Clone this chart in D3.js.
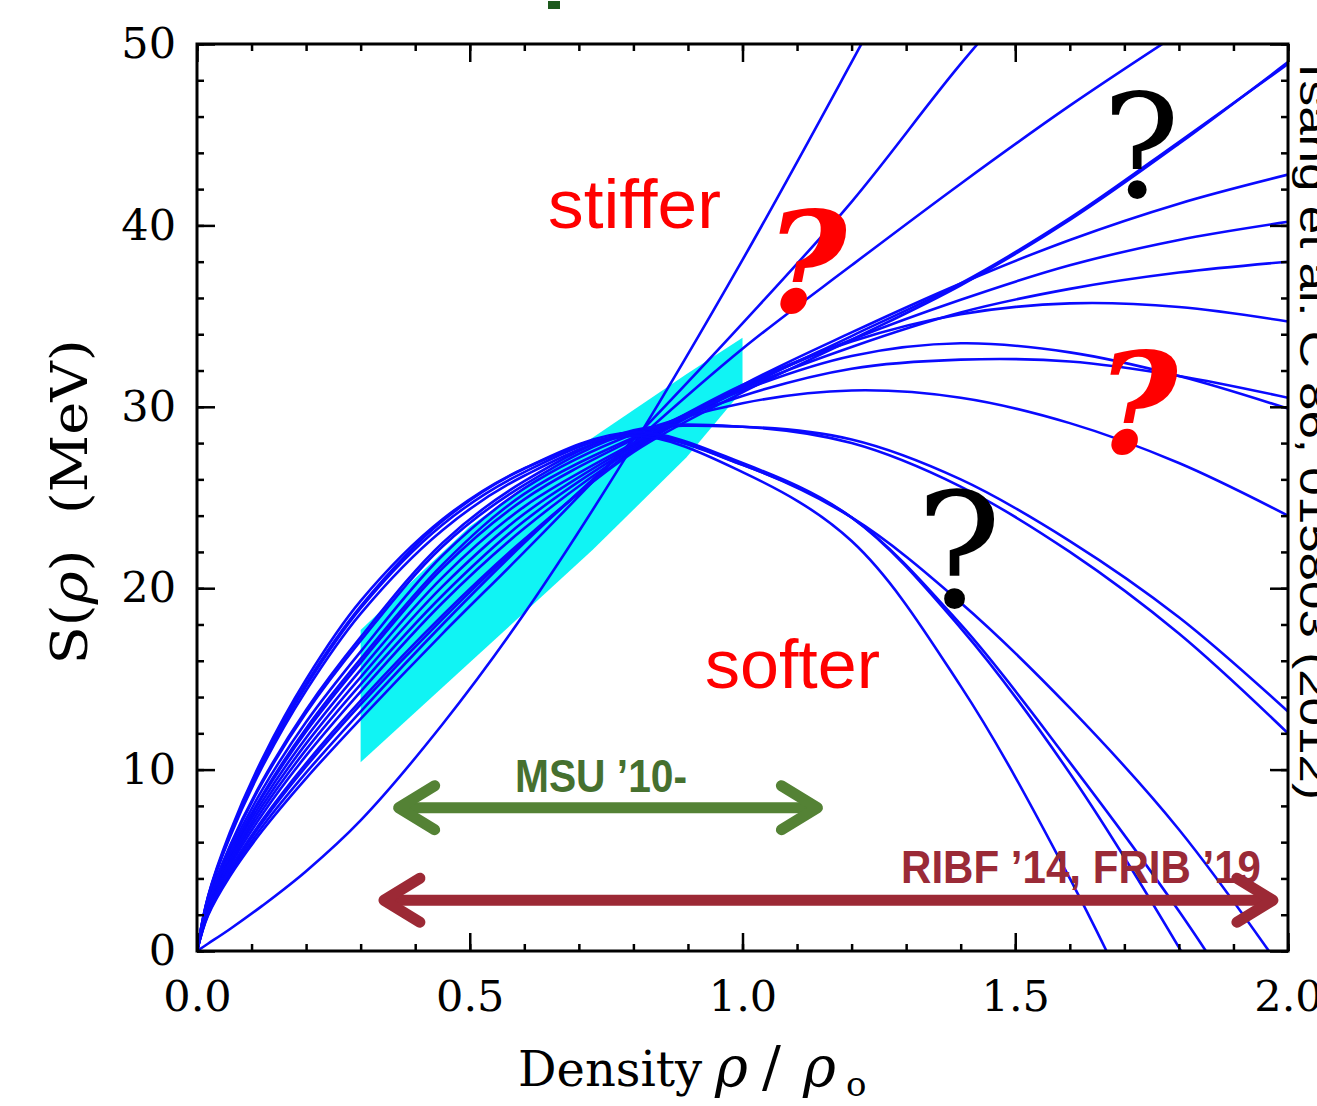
<!DOCTYPE html>
<html>
<head>
<meta charset="utf-8">
<script src="https://cdn.jsdelivr.net/npm/d3@7"></script>
<style>
  body { margin: 0; background: #fff; }
  svg { display: block; }
</style>
</head>
<body>
<div id="chart"></div>
<script>
// density grid rho/rho0 shared by all curves
const rho = [0, 0.02, 0.06, 0.12, 0.2, 0.3, 0.45, 0.6, 0.8, 1.0, 1.2, 1.4, 1.6, 1.8, 2.0];

// S(rho) in MeV (null = already above the frame)
const curve01 = [0, 0.4, 1.2, 2.5, 4.4, 7.2, 12.5, 18.6, 27.9, 38.1, 49.0, 60.2, null, null, null];
const curve02 = [0, 1.95, 4.11, 6.64, 9.52, 12.8, 17.5, 22.0, 28.2, 34.6, 41.3, 48.9, 55.8, null, null];
const curve03 = [0, 2.0, 4.25, 6.86, 9.83, 13.2, 18.0, 22.5, 28.0, 33.2, 37.8, 42.3, 46.6, 50.6, 54.5];
const curve04 = [0, 2.07, 4.39, 7.10, 10.17, 13.6, 18.3, 22.6, 27.6, 31.0, 33.9, 36.8, 40.4, 44.6, 48.9];
const curve05 = [0, 2.10, 4.47, 7.23, 10.35, 13.8, 18.5, 22.7, 27.5, 30.8, 33.7, 36.7, 40.3, 44.5, 49.0];
const curve06 = [0, 2.19, 4.66, 7.54, 10.77, 14.3, 19.2, 23.3, 27.7, 31.2, 34.1, 36.8, 39.2, 41.2, 42.8];
const curve07 = [0, 2.25, 4.81, 7.78, 11.10, 14.7, 19.6, 23.7, 27.8, 31.1, 33.7, 35.9, 37.8, 39.2, 40.2];
const curve08 = [0, 2.31, 4.95, 8.02, 11.43, 15.1, 20.1, 24.1, 27.9, 31.0, 33.3, 35.2, 36.5, 37.4, 38.0];
const curve09 = [0, 2.37, 5.10, 8.26, 11.76, 15.5, 20.6, 24.5, 28.0, 31.2, 33.6, 35.1, 35.7, 35.5, 34.7];
const curve10 = [0, 2.45, 5.25, 8.51, 12.10, 15.9, 21.1, 24.9, 28.2, 30.9, 32.8, 33.5, 33.0, 31.7, 29.9];
const curve11 = [0, 2.48, 5.31, 8.61, 12.27, 16.1, 21.3, 25.2, 28.3, 30.6, 32.1, 32.6, 32.5, 31.7, 30.5];
const curve12 = [0, 2.54, 5.48, 8.91, 12.62, 16.5, 21.8, 25.5, 28.5, 30.2, 30.9, 30.5, 29.1, 26.9, 24.0];
const curve13 = [0, 2.63, 5.71, 9.29, 13.13, 17.1, 22.3, 25.7, 28.6, 28.9, 28.2, 26.0, 22.6, 18.4, 13.2];
const curve14 = [0, 2.66, 5.78, 9.39, 13.29, 17.3, 22.5, 25.9, 28.7, 28.9, 28.0, 25.6, 22.0, 17.5, 12.0];
const curve15 = [0, 2.88, 6.25, 10.17, 14.36, 18.6, 23.2, 26.2, 28.4, 26.8, 23.9, 19.2, 13.4, 6.7, -1.5];
const curve16 = [0, 2.93, 6.35, 10.34, 14.6, 18.9, 23.5, 26.4, 28.5, 26.8, 23.9, 18.0, 10.4, 2.2, -7.0];
const curve17 = [0, 2.95, 6.40, 10.43, 14.73, 19.0, 23.7, 26.6, 28.6, 26.9, 23.9, 17.8, 9.8, 0.2, -10.5];
const curve18 = [0, 2.99, 6.52, 10.61, 14.97, 19.3, 23.8, 26.6, 28.4, 26.4, 22.6, 14.6, 4.0, -8.4, -22.0];
const curves = [curve01, curve02, curve03, curve04, curve05, curve06, curve07, curve08, curve09,
  curve10, curve11, curve12, curve13, curve14, curve15, curve16, curve17, curve18];

// cyan constraint band
const bandRho = [0.3, 0.5, 0.725, 0.897, 1.0];
const bandLow = [10.4, 15.9, 22.1, 27.2, 30.9];
const bandHigh = [17.7, 23.4, 28.3, 31.8, 33.8];

// ticks
const xMajor = [0, 0.5, 1, 1.5, 2];
const xTickLabels = ["0.0", "0.5", "1.0", "1.5", "2.0"];
const xMinor = [0, 0.1, 0.2, 0.3, 0.4, 0.5, 0.6, 0.7, 0.8, 0.9, 1, 1.1, 1.2, 1.3, 1.4, 1.5, 1.6, 1.7, 1.8, 1.9, 2];
const yMajor = [0, 10, 20, 30, 40, 50];
const yMinor = [0, 2, 4, 6, 8, 10, 12, 14, 16, 18, 20, 22, 24, 26, 28, 30, 32, 34, 36, 38, 40, 42, 44, 46, 48, 50];

// experiment ranges (rho from, rho to, S level)
const arrowNames = ["MSU \u201910-", "RIBF \u201914, FRIB \u201919"];
const arrowFrom = [0.366, 0.339];
const arrowTo = [1.141, 1.976];
const arrowLevel = [7.9, 2.8];

function init() {
    let width = 1317;
    let height = 1106;
    let svg = d3.select("#chart")
        .append("svg")
        .attr("width", width)
        .attr("height", height);

    let x = d3.scaleLinear().domain([0, 2]).range([197, 1288]);
    let y = d3.scaleLinear().domain([0, 50]).range([951, 44]);

    svg.append("clipPath").attr("id", "plotArea")
        .append("rect")
        .attr("x", x(0)).attr("y", y(50))
        .attr("width", x(2) - x(0)).attr("height", y(0) - y(50));

    let plot = svg.append("g").attr("clip-path", "url(#plotArea)");

    // band
    let band = bandRho.map((r, i) => ({r: r, lo: bandLow[i], hi: bandHigh[i]}));
    plot.append("path")
        .datum(band)
        .attr("fill", "#10f4f4")
        .attr("d", d3.area().x(d => x(d.r)).y0(d => y(d.lo)).y1(d => y(d.hi)));

    // curves
    let line = d3.line()
        .defined(d => d[1] !== null)
        .x(d => x(d[0]))
        .y(d => y(d[1]))
        .curve(d3.curveCatmullRom.alpha(0.5));
    curves.forEach(function (c) {
        plot.append("path")
            .datum(rho.map((r, i) => [r, c[i]]))
            .attr("fill", "none")
            .attr("stroke", "#0a0aff")
            .attr("stroke-width", 2.6)
            .attr("d", line);
    });

    // axes, ticks pointing inward
    function styleAxis(g) {
        g.select(".domain").remove();
        g.selectAll("line").attr("stroke", "#000").attr("stroke-width", 2.5);
        g.selectAll("text")
            .attr("font-family", "DejaVu Serif")
            .attr("font-size", 43)
            .attr("fill", "#000");
    }
    svg.append("g").attr("transform", "translate(0," + y(0) + ")")
        .call(d3.axisBottom(x).tickValues(xMinor).tickSize(-7).tickFormat(""))
        .call(styleAxis);
    svg.append("g").attr("transform", "translate(0," + y(0) + ")")
        .call(d3.axisBottom(x).tickValues(xMajor).tickSize(-18).tickPadding(29)
            .tickFormat((d, i) => xTickLabels[i]))
        .call(styleAxis);
    svg.append("g").attr("transform", "translate(0," + y(50) + ")")
        .call(d3.axisTop(x).tickValues(xMinor).tickSize(-7).tickFormat(""))
        .call(styleAxis);
    svg.append("g").attr("transform", "translate(0," + y(50) + ")")
        .call(d3.axisTop(x).tickValues(xMajor).tickSize(-18).tickFormat(""))
        .call(styleAxis);
    svg.append("g").attr("transform", "translate(" + x(0) + ",0)")
        .call(d3.axisLeft(y).tickValues(yMinor).tickSize(-7).tickFormat(""))
        .call(styleAxis);
    svg.append("g").attr("transform", "translate(" + x(0) + ",0)")
        .call(d3.axisLeft(y).tickValues(yMajor).tickSize(-18).tickPadding(21))
        .call(styleAxis);
    svg.append("g").attr("transform", "translate(" + x(2) + ",0)")
        .call(d3.axisRight(y).tickValues(yMinor).tickSize(-7).tickFormat(""))
        .call(styleAxis);
    svg.append("g").attr("transform", "translate(" + x(2) + ",0)")
        .call(d3.axisRight(y).tickValues(yMajor).tickSize(-18).tickFormat(""))
        .call(styleAxis);

    svg.append("rect")
        .attr("x", x(0)).attr("y", y(50))
        .attr("width", x(2) - x(0)).attr("height", y(0) - y(50))
        .attr("fill", "none").attr("stroke", "#000").attr("stroke-width", 3);

    // axis titles
    let xt = svg.append("text")
        .attr("font-family", "DejaVu Serif").attr("font-size", 48).attr("fill", "#000")
        .attr("y", 1086);
    xt.append("tspan").attr("x", 518).text("Density");
    xt.append("tspan").attr("x", 715).attr("font-style", "italic").attr("font-size", 56).text("\u03c1");
    xt.append("tspan").attr("x", 762).attr("font-size", 56).text("/");
    xt.append("tspan").attr("x", 803).attr("font-style", "italic").attr("font-size", 56).text("\u03c1");
    xt.append("tspan").attr("x", 846).attr("dy", 10).attr("font-size", 34).text("o");

    let yt = svg.append("text")
        .attr("transform", "translate(87,502) rotate(-90)")
        .attr("text-anchor", "middle")
        .attr("font-family", "DejaVu Serif").attr("font-size", 50).attr("fill", "#000")
        .attr("textLength", 325).attr("lengthAdjust", "spacingAndGlyphs");
    yt.append("tspan").text("S(");
    yt.append("tspan").attr("font-style", "italic").text("\u03c1");
    yt.append("tspan").text(")\u00a0\u00a0(MeV)");

    // reference on the right edge (cut off by the page edge, as in the original)
    svg.append("text")
        .attr("transform", "translate(1300,55) rotate(90)")
        .attr("font-family", "Liberation Sans, Arial, sans-serif")
        .attr("font-size", 40).attr("fill", "#000")
        .attr("textLength", 745).attr("lengthAdjust", "spacingAndGlyphs")
        .text("Tsang et al. C 86, 015803 (2012)");

    // fragment of a cut-off title
    svg.append("rect").attr("x", 548).attr("y", 1).attr("width", 12).attr("height", 8).attr("fill", "#1d5a1d");

    // stiffer / softer
    svg.append("text").attr("x", 548).attr("y", 228)
        .attr("font-family", "Liberation Sans, Arial, sans-serif").attr("font-size", 68)
        .attr("fill", "#ff0000").attr("textLength", 173).attr("lengthAdjust", "spacingAndGlyphs")
        .text("stiffer");
    svg.append("text").attr("x", 705).attr("y", 688)
        .attr("font-family", "Liberation Sans, Arial, sans-serif").attr("font-size", 68)
        .attr("fill", "#ff0000").attr("textLength", 175).attr("lengthAdjust", "spacingAndGlyphs")
        .text("softer");

    // question marks
    let qs = [
        {x: 1141, y: 197, size: 145, color: "#000", bold: false, italic: false},
        {x: 959, y: 607, size: 160, color: "#000", bold: false, italic: false},
        {x: 806, y: 312, size: 140, color: "#ff0000", bold: true, italic: true},
        {x: 1137, y: 453, size: 140, color: "#ff0000", bold: true, italic: true}
    ];
    qs.forEach(function (q) {
        svg.append("text").attr("x", q.x).attr("y", q.y)
            .attr("text-anchor", "middle")
            .attr("font-family", "DejaVu Serif")
            .attr("font-weight", q.bold ? "bold" : "normal")
            .attr("font-style", q.italic ? "italic" : "normal")
            .attr("font-size", q.size).attr("fill", q.color)
            .text("?");
    });

    // double arrows
    let arrowColors = ["#548235", "#9c2935"];
    let textColors = ["#46702f", "#9a2a37"];
    let textX = [515, 901];
    let textLen = [172, 360];
    let textDy = [-16, -17];
    arrowNames.forEach(function (name, i) {
        let g = svg.append("g")
            .attr("stroke", arrowColors[i]).attr("stroke-width", 11)
            .attr("stroke-linecap", "round").attr("stroke-linejoin", "round")
            .attr("fill", "none");
        let x0 = x(arrowFrom[i]), x1 = x(arrowTo[i]), yy = y(arrowLevel[i]);
        g.append("line").attr("x1", x0 + 4).attr("x2", x1 - 4).attr("y1", yy).attr("y2", yy);
        g.append("path").attr("d", "M" + (x0 + 38) + "," + (yy - 22) + "L" + (x0 + 2) + "," + yy + "L" + (x0 + 38) + "," + (yy + 22));
        g.append("path").attr("d", "M" + (x1 - 38) + "," + (yy - 22) + "L" + (x1 - 2) + "," + yy + "L" + (x1 - 38) + "," + (yy + 22));
        svg.append("text")
            .attr("x", textX[i]).attr("y", yy + textDy[i])
            .attr("font-family", "Liberation Sans Narrow, Arial Narrow, Liberation Sans, sans-serif")
            .attr("font-weight", "bold").attr("font-size", 46)
            .attr("fill", textColors[i])
            .attr("textLength", textLen[i]).attr("lengthAdjust", "spacingAndGlyphs")
            .text(name);
    });
}

window.addEventListener('load', init);
</script>
</body>
</html>
